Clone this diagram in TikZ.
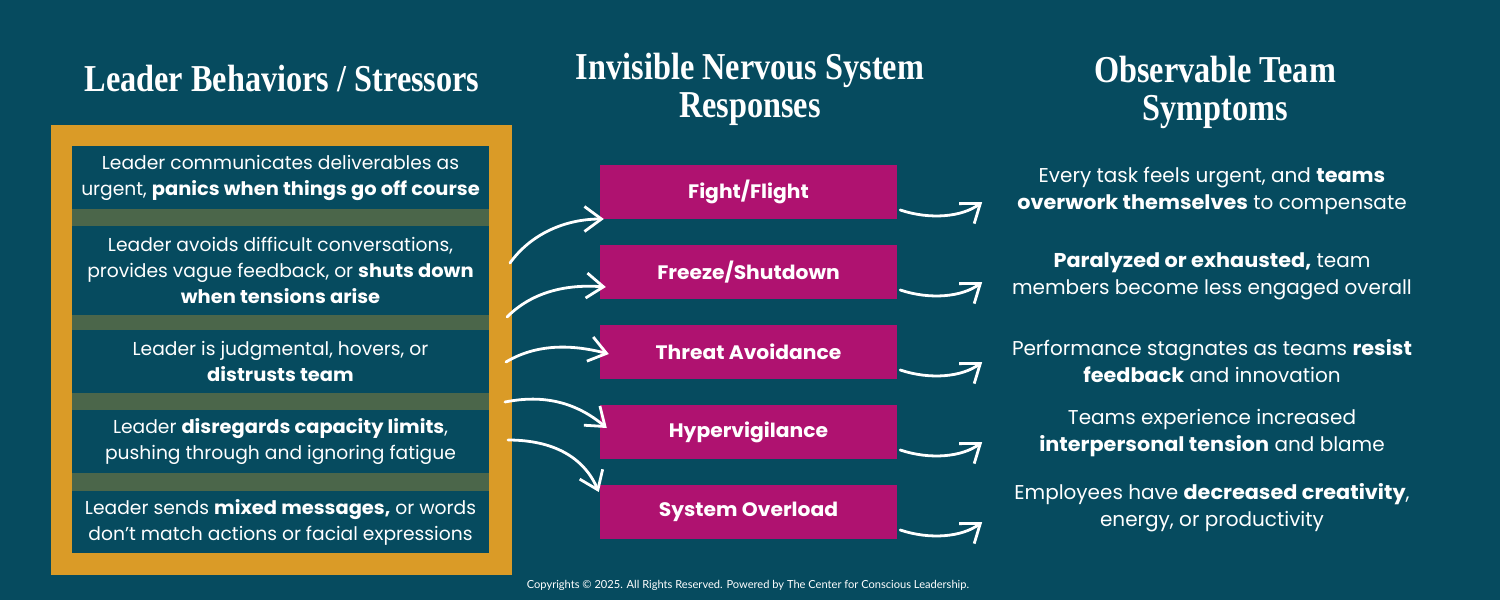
\documentclass[tikz,border=0pt]{standalone}
\usepackage{fontspec}
\setmainfont{Poppins}[BoldFeatures = {FakeStretch = 1.04, Ligatures = CommonOff}]
\newfontfamily\headfont[FakeStretch=0.85]{Liberation Serif}
\newfontfamily\footfont{Lato}
\usepackage{tikz}
\usetikzlibrary{arrows.meta}
\definecolor{teal}{HTML}{064B5F}
\definecolor{gold}{HTML}{DA9B27}
\definecolor{moss}{HTML}{4B664A}
\definecolor{plum}{HTML}{AF1270}
\tikzset{cell/.style = {fill = teal, text = white, align = center, inner sep = 0, minimum width = 417pt, font = \fontsize{18.7}{26}\selectfont}}
\tikzset{resp/.style = {fill = plum, text = white, inner sep = 0, minimum width = 297pt, minimum height = 54pt, font = \fontsize{19.5}{22}\selectfont\bfseries}}
\tikzset{symp/.style = {text = white, align = center, inner sep = 0, font = \fontsize{20}{27}\selectfont}}
\tikzset{head/.style = {text = white, align = center, inner sep = 0, font = \headfont\fontsize{38}{38}\selectfont\bfseries}}
\tikzset{arr/.style = {draw = white, line width = 2.8pt, line cap = round, -{Straight Barb[length = 17pt, width = 25pt, line width = 2.8pt]}}}

\begin{document}
\begin{tikzpicture}[x = 1pt, y = -1pt]
  \fill [teal] (0, 0) rectangle (1500, 600);
  \useasboundingbox (0, 0) rectangle (1500, 600);

  \node [head] (h1) at (282, 78) {Leader Behaviors / Stressors};
  \node [head] (h2) at (750, 89) {Invisible Nervous System\\Responses};
  \node [head] (h3) at (1215, 92) {Observable Team\\Symptoms};

  \node [fill = gold, inner sep = 0, minimum width = 461pt, minimum height = 450pt] (frame) at (281.5, 350) {};
  \fill [moss] (72, 146) rectangle (489, 553);
  \node [cell, minimum height = 63pt] (c1) at (280.5, 177.5) {Leader communicates deliverables as\\urgent, \textbf{panics when things go off course}};
  \node [cell, minimum height = 89pt] (c2) at (280.5, 270.5) {Leader avoids difficult conversations,\\provides vague feedback, or \textbf{shuts down}\\\textbf{when tensions arise}};
  \node [cell, minimum height = 63pt] (c3) at (280.5, 361.5) {Leader is judgmental, hovers, or\\\textbf{distrusts team}};
  \node [cell, minimum height = 63pt] (c4) at (280.5, 441.5) {Leader \textbf{disregards capacity limits},\\pushing through and ignoring fatigue};
  \node [cell, minimum height = 62pt] (c5) at (280.5, 522) {Leader sends \textbf{mixed messages,} or words\\don’t match actions or facial expressions};

  \node [resp] (r1) at (748.5, 192) {Fight/Flight};
  \node [resp] (r2) at (748.5, 272) {Freeze/Shutdown};
  \node [resp] (r3) at (748.5, 352) {Threat Avoidance};
  \node [resp] (r4) at (748.5, 432) {Hypervigilance};
  \node [resp] (r5) at (748.5, 512) {System Overload};

  \node [symp] (s1) at (1212, 191) {Every task feels urgent, and \textbf{teams}\\\textbf{overwork themselves} to compensate};
  \node [symp] (s2) at (1212, 276) {\textbf{Paralyzed or exhausted,} team\\members become less engaged overall};
  \node [symp] (s3) at (1212, 361) {Performance stagnates as teams \textbf{resist}\\\textbf{feedback} and innovation};
  \node [symp] (s4) at (1212, 433) {Teams experience increased\\\textbf{interpersonal tension} and blame};
  \node [symp] (s5) at (1212, 508) {Employees have \textbf{decreased creativity},\\energy, or productivity};

  \node [text = white, font = \footfont\fontsize{11.1}{12}\selectfont] (foot) at (748, 585) {Copyrights © 2025. All Rights Reserved. Powered by The Center for Conscious Leadership.};

  \coordinate (a1) at (510, 263);
  \coordinate (a2) at (507, 317);
  \coordinate (a3) at (506, 362);
  \coordinate (a4) at (505, 402);
  \coordinate (a5) at (508, 440);
  \draw [arr] (a1) .. controls +(20, -28) and +(-40, 0) .. ([shift = {(4, 27)}]r1.west);
  \draw [arr] (a2) .. controls +(25, -25) and +(-40, -3) .. ([shift = {(6, 15)}]r2.west);
  \draw [arr] (a3) .. controls +(30, -18) and +(-38, -10) .. ([shift = {(9, 2)}]r3.west);
  \draw [arr] (a4) .. controls +(40, -8) and +(-30, -25) .. ([shift = {(7, -4)}]r4.west);
  \draw [arr] (a5) .. controls +(45, 0) and +(-15, -35) .. ([shift = {(-1, -20)}]r5.west);

  \draw [arr] ([shift = {(3, 18)}]r1.east) .. controls +(30, 10) and +(-20, 15) .. ([shift = {(85, 10)}]r1.east);
  \draw [arr] ([shift = {(3, 18)}]r2.east) .. controls +(30, 10) and +(-20, 15) .. ([shift = {(85, 10)}]r2.east);
  \draw [arr] ([shift = {(3, 18)}]r3.east) .. controls +(30, 10) and +(-20, 15) .. ([shift = {(85, 10)}]r3.east);
  \draw [arr] ([shift = {(3, 18)}]r4.east) .. controls +(30, 10) and +(-20, 15) .. ([shift = {(85, 10)}]r4.east);
  \draw [arr] ([shift = {(3, 18)}]r5.east) .. controls +(30, 10) and +(-20, 15) .. ([shift = {(85, 10)}]r5.east);
\end{tikzpicture}
\end{document}
